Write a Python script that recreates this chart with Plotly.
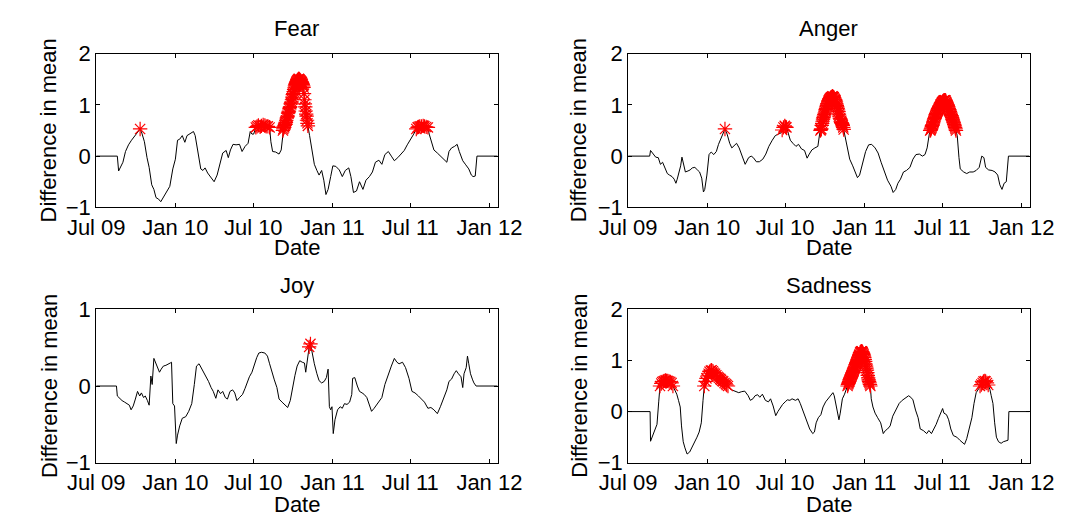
import plotly.graph_objects as go
import pandas as pd

START = "2009-07-01"
THRESHOLD = 0.5

tick_dates = ["2009-07-01", "2010-01-01", "2010-07-01", "2011-01-01", "2011-07-01", "2012-01-01"]
tick_labels = ["Jul 09", "Jan 10", "Jul 10", "Jan 11", "Jul 11", "Jan 12"]
x_range = ["2009-07-01", "2012-01-20"]

# ---- Fear (days since 2009-07-01, value) ----
fear_days = [0, 49, 52, 57, 62, 68, 75, 82, 90, 97, 102, 106, 112, 118, 123, 129, 134, 139, 145, 150,
             156, 163, 171, 178, 184, 189, 194, 200, 206, 211, 219, 226, 230, 237, 243, 248, 253, 259, 267, 274,
             281, 289, 294, 302, 307, 312, 318, 325, 333, 339, 346, 353, 358, 362, 366, 371, 374, 377, 381, 384,
             388, 392, 395, 399, 403, 406, 410, 417, 425, 430, 496, 502, 507, 513, 518, 524, 529, 534, 539,
             545, 550, 557, 565, 572, 579, 587, 592, 598, 605, 612, 620, 627, 635, 642, 649, 657, 664, 671, 679,
             686, 693, 701, 708, 716, 723, 730, 738, 744, 747, 749, 752, 756, 760, 763, 767, 771, 774, 780, 785,
             793, 800, 808, 815, 820, 826, 833, 839, 844, 852, 859, 866, 872, 876, 881, 885, 933]
fear_vals = [0, 0, -0.29, -0.19, -0.12, 0.09, 0.22, 0.31, 0.39, 0.48, 0.53, 0.45, 0.28, -0.03, -0.22, -0.56, -0.65, -0.81, -0.84, -0.89,
             -0.81, -0.71, -0.59, -0.25, -0.06, 0.31, 0.33, 0.40, 0.27, 0.40, 0.45, 0.48, 0.40, 0.03, -0.25, -0.28, -0.23, -0.33, -0.43, -0.50,
             -0.37, -0.09, 0.06, 0.11, -0.03, 0.12, 0.23, 0.22, 0.23, 0.09, 0.19, 0.25, 0.48, 0.43, 0.43, 0.56, 0.58, 0.60, 0.57, 0.59,
             0.61, 0.60, 0.58, 0.58, 0.56, 0.28, 0.09, 0.08, 0.04, 0.12, 0.40, 0.12, -0.16, -0.28, -0.37, -0.28, -0.47, -0.75, -0.65,
             -0.40, -0.19, -0.20, -0.27, -0.40, -0.28, -0.23, -0.40, -0.71, -0.68, -0.50, -0.65, -0.47, -0.40, -0.31, -0.12, -0.08, -0.16, 0.03, 0.09,
             0.00, -0.09, -0.03, 0.03, 0.11, 0.22, 0.31, 0.43, 0.53, 0.56, 0.57, 0.58, 0.58, 0.59, 0.58, 0.57, 0.56, 0.43, 0.28, 0.12,
             0.06, 0.00, -0.06, -0.12, 0.09, 0.16, 0.19, 0.23, 0.09, -0.09, -0.17, -0.25, -0.37, -0.40, -0.39, 0, 0]
# daily readings around the big autumn-2010 peak
fear_peak_days = list(range(434, 493))
fear_peak_vals = [0.50, 0.53, 0.57, 0.56, 0.60, 0.63, 0.62, 0.66, 0.70, 0.74, 0.76, 0.78, 0.84, 0.86, 0.88, 0.92, 0.95, 0.96, 1.02, 1.04,
                  1.06, 1.10, 1.15, 1.20, 1.22, 1.26, 1.30, 1.33, 1.37, 1.40, 1.42, 1.44, 1.46, 1.47, 1.48, 1.49, 1.50, 1.51, 1.50, 1.49,
                  1.48, 1.47, 1.46, 1.45, 1.44, 1.42, 1.40, 1.37, 1.34, 1.22, 1.10, 1.02, 0.96, 0.88, 0.82, 0.78, 0.70, 0.64, 0.59]

# ---- Anger ----
anger_days = [0, 50, 52, 58, 64, 70, 75, 80, 85, 91, 96, 102, 107, 111, 114, 118, 122, 125, 129, 133,
              139, 144, 149, 155, 161, 166, 171, 175, 178, 183, 188, 193, 199, 205, 210, 215, 221, 225, 230, 236,
              241, 247, 252, 258, 265, 272, 280, 286, 291, 298, 305, 313, 320, 327, 335, 342, 349, 355, 358, 361,
              364, 366, 368, 372, 377, 383, 390, 396, 403, 410, 416, 421, 427, 434, 441, 508, 515, 522, 528, 533, 538,
              544, 552, 559, 566, 574, 581, 588, 596, 603, 611, 616, 622, 627, 633, 640, 647, 655, 662, 669, 677,
              684, 690, 695, 769, 772, 780, 787, 794, 802, 809, 816, 822, 827, 831, 838, 846,
              853, 859, 864, 869, 874, 879, 884, 933]
anger_vals = [0, 0, 0.11, 0.04, -0.02, -0.03, -0.16, -0.12, -0.23, -0.34, -0.37, -0.40, -0.45, -0.53, -0.45, -0.31, -0.19, -0.02, -0.20, -0.31,
              -0.29, -0.27, -0.23, -0.22, -0.27, -0.31, -0.43, -0.70, -0.65, -0.37, 0.03, 0.08, 0.03, 0.09, 0.23, 0.34, 0.45, 0.53, 0.43, 0.25,
              0.16, 0.22, 0.25, 0.16, 0.00, -0.16, -0.03, 0.00, -0.03, -0.11, -0.11, -0.06, 0.04, 0.19, 0.31, 0.40, 0.43, 0.45, 0.51, 0.56,
              0.59, 0.57, 0.56, 0.45, 0.31, 0.25, 0.19, 0.23, 0.14, 0.11, -0.04, 0.04, 0.12, 0.16, 0.19, 0.22, -0.06, -0.19, -0.31, -0.42, -0.37,
              -0.16, 0.09, 0.22, 0.23, 0.16, 0.06, -0.12, -0.31, -0.47, -0.59, -0.71, -0.65, -0.53, -0.45, -0.31, -0.28, -0.22, -0.06, 0.03, 0.04,
              0.00, 0.03, 0.16, -0.03, -0.25, -0.31, -0.34, -0.31, -0.31, -0.28, -0.22, 0.00, -0.03, -0.22, -0.27, -0.28,
              -0.31, -0.37, -0.56, -0.65, -0.53, -0.50, 0, 0]
anger_peak1_days = list(range(445, 504))
anger_peak1_vals = [0.43, 0.47, 0.50, 0.52, 0.53, 0.60, 0.64, 0.68, 0.72, 0.75, 0.78, 0.81, 0.84, 0.88, 0.91, 0.93, 0.96, 0.99, 1.02, 1.03,
                    1.06, 1.08, 1.09, 1.11, 1.12, 1.13, 1.14, 1.15, 1.15, 1.16, 1.17, 1.16, 1.15, 1.15, 1.13, 1.11, 1.10, 1.09, 1.06, 1.02,
                    0.99, 0.96, 0.93, 0.90, 0.87, 0.82, 0.78, 0.74, 0.72, 0.68, 0.66, 0.65, 0.64, 0.62, 0.60, 0.56, 0.52, 0.45, 0.40]
anger_peak2_days = list(range(700, 766))
anger_peak2_vals = [0.43, 0.47, 0.50, 0.51, 0.53, 0.55, 0.58, 0.60, 0.61, 0.65, 0.68, 0.71, 0.73, 0.75, 0.78, 0.81, 0.83, 0.84, 0.86, 0.88,
                    0.89, 0.90, 0.93, 0.95, 0.96, 0.98, 1.00, 1.01, 1.02, 1.04, 1.05, 1.06, 1.07, 1.08, 1.08, 1.09, 1.09, 1.09, 1.08, 1.06,
                    1.04, 1.02, 1.00, 0.98, 0.96, 0.93, 0.91, 0.90, 0.87, 0.84, 0.81, 0.79, 0.78, 0.75, 0.72, 0.70, 0.67, 0.65, 0.62, 0.59,
                    0.56, 0.53, 0.50, 0.46, 0.43, 0.40]

# ---- Joy ----
joy_days = [0, 47, 49, 55, 60, 66, 71, 77, 81, 86, 91, 96, 101, 105, 110, 114, 119, 123, 127, 130,
            134, 138, 141, 147, 151, 156, 162, 167, 172, 175, 178, 182, 186, 189, 194, 200, 208, 215, 222, 228,
            233, 239, 244, 250, 255, 261, 267, 272, 278, 283, 289, 294, 300, 305, 311, 317, 322, 327, 333, 340,
            346, 351, 356, 362, 368, 373, 378, 384, 392, 398, 403, 408, 414, 420, 425, 432, 440, 445, 451, 456,
            462, 467, 473, 479, 484, 487, 492, 495, 498, 502, 507, 513, 518, 524, 530, 535, 539, 542, 545, 548,
            551, 555, 561, 567, 572, 577, 583, 589, 594, 596, 601, 607, 612, 618, 623, 629, 635, 640, 646, 651,
            657, 664, 671, 679, 686, 693, 699, 704, 712, 719, 727, 734, 741, 749, 756, 763, 771, 778, 785, 793,
            800, 808, 815, 820, 826, 832, 837, 842, 848, 852, 855, 860, 863, 866, 870, 875, 878, 883, 933]
joy_vals = [0, 0, -0.13, -0.17, -0.19, -0.21, -0.23, -0.25, -0.31, -0.26, -0.17, -0.07, -0.13, -0.09, -0.15, -0.13, -0.19, -0.25, 0.13, 0.02,
            0.36, 0.31, 0.26, 0.18, 0.22, 0.26, 0.27, 0.29, 0.30, 0.31, -0.23, -0.26, -0.75, -0.64, -0.52, -0.42, -0.40, -0.33, -0.23, 0.02,
            0.26, 0.29, 0.24, 0.18, 0.12, 0.06, -0.02, -0.07, -0.16, -0.05, -0.10, -0.07, -0.15, -0.17, -0.07, -0.05, -0.09, -0.19, -0.15, -0.11,
            -0.03, 0.06, 0.12, 0.18, 0.29, 0.37, 0.43, 0.44, 0.43, 0.39, 0.29, 0.18, 0.08, -0.02, -0.17, -0.21, -0.25, -0.28, -0.19, -0.03,
            0.14, 0.26, 0.33, 0.31, 0.30, 0.18, 0.39, 0.51, 0.55, 0.43, 0.29, 0.16, 0.07, 0.04, 0.06, 0.11, 0.22, -0.27, -0.31, -0.27,
            -0.62, -0.44, -0.31, -0.27, -0.29, -0.23, -0.24, -0.21, -0.11, 0.10, 0.11, 0.00, -0.07, -0.09, -0.11, -0.15, -0.25, -0.33, -0.29, -0.25,
            -0.19, -0.15, 0.02, 0.16, 0.26, 0.36, 0.31, 0.29, 0.31, 0.24, 0.10, -0.07, -0.09, -0.13, -0.17, -0.21, -0.29, -0.28, -0.31, -0.36,
            -0.27, -0.15, -0.05, 0.06, 0.09, 0.16, 0.20, 0.16, 0.12, -0.02, 0.16, 0.24, 0.39, 0.29, 0.16, 0.08, 0.04, 0, 0]

# ---- Sadness ----
sad_days = [0, 51, 52, 57, 62, 67, 71, 74, 77, 79, 82, 84, 87, 89, 92, 95, 98, 101, 104, 108,
            113, 117, 121, 124, 128, 132, 137, 143, 148, 154, 160, 165, 170, 174, 177, 180, 182, 185, 187, 189,
            192, 194, 197, 199, 202, 205, 208, 211, 214, 216, 219, 221, 224, 227, 229, 232, 236, 242, 249, 257,
            264, 271, 279, 284, 290, 295, 301, 306, 312, 319, 326, 331, 337, 343, 348, 354, 359, 365, 370, 376,
            381, 389, 395, 400, 407, 415, 422, 429, 433, 437, 442, 448, 453, 459, 464, 470, 476, 479, 483, 487,
            490, 493, 498, 503, 569, 574, 580, 587, 593, 598, 603, 609, 615, 623, 630, 637, 645, 652, 657, 662, 668, 674,
            679, 686, 694, 699, 705, 711, 716, 721, 727, 731, 734, 740, 745, 750, 756, 764, 771, 777, 782, 787,
            793, 799, 804, 809, 815, 818, 821, 824, 826, 829, 831, 834, 837, 841, 844, 848, 852, 856, 861, 867,
            872, 878, 883, 885, 933]
sad_vals = [0, 0, -0.58, -0.47, -0.34, -0.25, 0.19, 0.50, 0.55, 0.58, 0.59, 0.60, 0.61, 0.60, 0.60, 0.59, 0.58, 0.56, 0.50, 0.42,
            0.34, 0.22, 0.09, -0.28, -0.59, -0.71, -0.83, -0.79, -0.71, -0.59, -0.50, -0.40, -0.22, 0.22, 0.50, 0.59, 0.65, 0.70, 0.74, 0.78,
            0.80, 0.81, 0.79, 0.76, 0.74, 0.71, 0.68, 0.66, 0.64, 0.62, 0.60, 0.59, 0.56, 0.54, 0.52, 0.50, 0.45, 0.42, 0.39, 0.37,
            0.39, 0.40, 0.31, 0.22, 0.25, 0.31, 0.33, 0.28, 0.34, 0.22, 0.19, 0.25, 0.11, -0.08, 0.00, 0.09, 0.14, 0.19, 0.23, 0.22,
            0.25, 0.22, 0.25, 0.16, 0.00, -0.19, -0.34, -0.43, -0.40, -0.22, -0.12, -0.06, 0.09, 0.19, 0.25, 0.31, 0.37, 0.31, 0.16, -0.03,
            -0.16, -0.03, 0.25, 0.34, 0.09, -0.03, -0.12, -0.22, -0.43, -0.37, -0.34, -0.28, -0.09, 0.06, 0.16, 0.22, 0.27, 0.31, 0.28, 0.23, 0.03, -0.12,
            -0.34, -0.37, -0.43, -0.37, -0.43, -0.34, -0.25, -0.14, -0.03, 0.06, -0.03, -0.06, -0.16, -0.34, -0.47, -0.50, -0.56, -0.60, -0.64, -0.53,
            -0.34, -0.12, 0.16, 0.37, 0.45, 0.50, 0.53, 0.56, 0.59, 0.60, 0.59, 0.56, 0.52, 0.43, 0.31, 0.16, -0.22, -0.50, -0.59, -0.62,
            -0.59, -0.58, -0.56, 0, 0]
sad_peak_days = list(range(506, 566))
sad_peak_vals = [0.43, 0.46, 0.47, 0.49, 0.50, 0.53, 0.55, 0.57, 0.59, 0.62, 0.64, 0.66, 0.68, 0.70, 0.72, 0.74, 0.76, 0.78, 0.80, 0.83,
                 0.85, 0.87, 0.89, 0.92, 0.94, 0.96, 0.98, 1.00, 1.02, 1.05, 1.07, 1.10, 1.12, 1.15, 1.16, 1.17, 1.18, 1.18, 1.17, 1.16,
                 1.14, 1.12, 1.09, 1.06, 1.02, 0.98, 0.93, 0.89, 0.85, 0.81, 0.76, 0.71, 0.66, 0.62, 0.59, 0.56, 0.53, 0.50, 0.38, 0.25]


def merge(base_days, base_vals, *details):
    table = dict(zip(base_days, base_vals))
    for d_days, d_vals in details:
        table.update(zip(d_days, d_vals))
    keys = sorted(table)
    return keys, [table[k] for k in keys]


panels = [
    ("Fear", *merge(fear_days, fear_vals, (fear_peak_days, fear_peak_vals)), [-1, 2]),
    ("Anger", *merge(anger_days, anger_vals, (anger_peak1_days, anger_peak1_vals),
                     (anger_peak2_days, anger_peak2_vals)), [-1, 2]),
    ("Joy", joy_days, joy_vals, [-1, 1]),
    ("Sadness", *merge(sad_days, sad_vals, (sad_peak_days, sad_peak_vals)), [-1, 2]),
]

W, H = 1083, 531
# pixel boxes (left, right, top, bottom)
boxes = [(70.7, 492.7, 43.7, 205.0), (630.0, 1052.0, 43.7, 205.0),
         (70.7, 492.7, 312.0, 473.0), (630.0, 1052.0, 312.0, 473.0)]
ylabel_x = [21.0, 578.0, 21.0, 578.0]
title_y = [17.0, 17.0, 287.0, 287.0]
date_y = [247.5, 247.5, 517.0, 517.0]

FONT = "Liberation Sans, Arial, Helvetica, sans-serif"
FS = 22


def to_dates(days):
    return pd.Timestamp(START) + pd.to_timedelta(days, unit="D")


fig = go.Figure()
layout = dict(width=W, height=H, margin=dict(l=0, r=0, t=0, b=0),
              paper_bgcolor="white", plot_bgcolor="white", showlegend=False,
              font=dict(family=FONT, size=FS, color="black"))
annotations = []

for i, (name, days, vals, yrange) in enumerate(panels):
    n = "" if i == 0 else str(i + 1)
    xref, yref = "x" + n, "y" + n
    dates = to_dates(days)
    fig.add_trace(go.Scatter(x=dates, y=vals, mode="lines", xaxis=xref, yaxis=yref,
                             line=dict(color="black", width=1), hoverinfo="skip"))
    mx = [d for d, v in zip(dates, vals) if v >= THRESHOLD]
    my = [v for v in vals if v >= THRESHOLD]
    fig.add_trace(go.Scatter(x=mx, y=my, mode="markers", xaxis=xref, yaxis=yref,
                             marker=dict(symbol="asterisk-open", size=12, color="red",
                                         line=dict(color="red", width=1.2)), hoverinfo="skip"))
    l, r, t, b = boxes[i]
    ytv = list(range(yrange[0], yrange[1] + 1))
    ytt = [("\u2212" + str(-v)) if v < 0 else str(v) for v in ytv]
    layout["xaxis" + n] = dict(domain=[l / W, r / W], anchor=yref, range=x_range,
                               tickvals=tick_dates, ticktext=tick_labels, ticks="inside", ticklen=4,
                               tickcolor="black", showline=True, linecolor="black", linewidth=1,
                               mirror="ticks", showgrid=False, zeroline=False,
                               tickfont=dict(family=FONT, size=FS, color="black"))
    layout["yaxis" + n] = dict(domain=[1 - b / H, 1 - t / H], anchor=xref, range=yrange,
                               tickvals=ytv, ticktext=ytt, ticks="inside", ticklen=4,
                               tickcolor="black", showline=True, linecolor="black", linewidth=1,
                               mirror="ticks", showgrid=False, zeroline=False,
                               tickfont=dict(family=FONT, size=FS, color="black"))
    cx = (l + r) / 2 / W
    annotations.append(dict(text=name, x=cx, y=1 - title_y[i] / H, xref="paper", yref="paper",
                            showarrow=False, xanchor="center", yanchor="middle",
                            font=dict(family=FONT, size=FS, color="black")))
    annotations.append(dict(text="Date", x=cx, y=1 - date_y[i] / H, xref="paper", yref="paper",
                            showarrow=False, xanchor="center", yanchor="middle",
                            font=dict(family=FONT, size=FS, color="black")))
    annotations.append(dict(text="Difference in mean", x=ylabel_x[i] / W, y=1 - (t + b) / 2 / H,
                            xref="paper", yref="paper", showarrow=False, textangle=-90,
                            xanchor="center", yanchor="middle",
                            font=dict(family=FONT, size=FS, color="black")))

layout["annotations"] = annotations
fig.update_layout(**layout)
fig.write_html("out.html", config={"displayModeBar": False},
               post_script="document.body.style.margin='0px';document.body.style.overflow='hidden';")
